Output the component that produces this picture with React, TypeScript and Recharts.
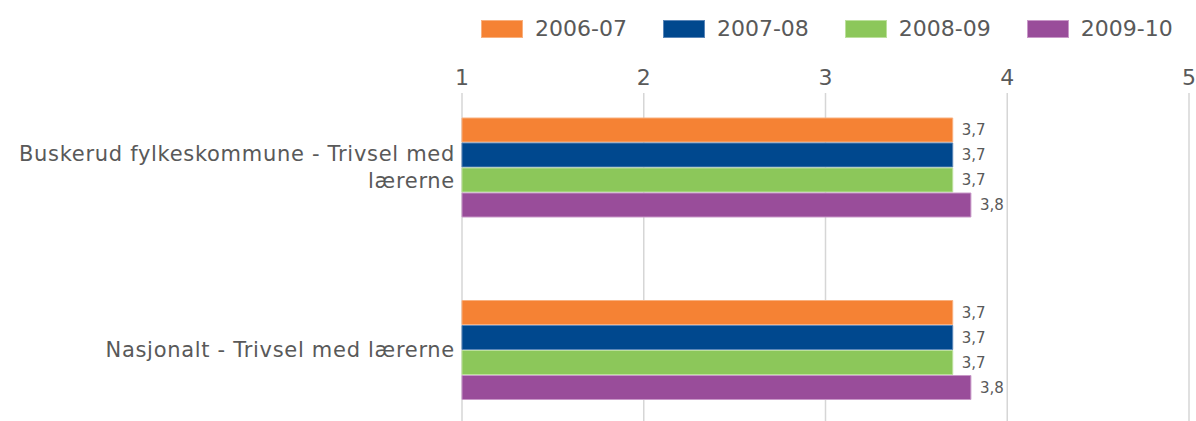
import { Bar, BarChart, CartesianGrid, LabelList, Legend, XAxis, YAxis } from "recharts";

const categories = ["Buskerud fylkeskommune - Trivsel med lærerne", "Nasjonalt - Trivsel med lærerne"];
const y2006 = [3.7, 3.7];
const y2007 = [3.7, 3.7];
const y2008 = [3.7, 3.7];
const y2009 = [3.8, 3.8];
const xTicks = [1, 2, 3, 4, 5];

const data = categories.map((name, i) => ({
  name,
  a: y2006[i],
  b: y2007[i],
  c: y2008[i],
  d: y2009[i],
}));

const font = "'DejaVu Sans', Verdana, sans-serif";
const text = "#595959";

const series = [
  { key: "a", name: "2006-07", fill: "#F58234", stroke: "#F9B07E" },
  { key: "b", name: "2007-08", fill: "#00488E", stroke: "#5A86B8" },
  { key: "c", name: "2008-09", fill: "#8CC75A", stroke: "#BCE09C" },
  { key: "d", name: "2009-10", fill: "#994D9A", stroke: "#C898C8" },
];

// wrap long category names by character count
function wrap(label: string, maxChars = 38) {
  const lines: string[] = [];
  let cur = "";
  for (const w of label.split(" ")) {
    const next = cur ? cur + " " + w : w;
    if (next.length > maxChars && cur) {
      lines.push(cur);
      cur = w;
    } else {
      cur = next;
    }
  }
  if (cur) lines.push(cur);
  return lines;
}

function LegendBox({ payload }: any) {
  return (
    <div style={{ display: "flex", fontFamily: font, fontSize: 22, color: text, whiteSpace: "nowrap" }}>
      {(payload || []).map((p: any, i: number) => {
        const s = series.find((x) => x.name === p.value);
        return (
          <div key={i} style={{ display: "flex", alignItems: "center", marginRight: 36 }}>
            <span
              style={{
                width: 40,
                height: 16,
                background: p.color,
                border: `1px solid ${s ? s.stroke : p.color}`,
                marginRight: 12,
                flexShrink: 0,
              }}
            />
            <span style={{ lineHeight: "18px" }}>{p.value}</span>
          </div>
        );
      })}
    </div>
  );
}

function CategoryTick({ x, y, payload }: any) {
  const lines = wrap(String(payload.value));
  const lh = 27;
  return (
    <text
      x={x}
      y={y}
      textAnchor="end"
      fontSize={21}
      fontFamily={font}
      fill={text}
      letterSpacing={0.7}
    >
      {lines.map((l, i) => (
        <tspan key={i} x={x} dy={i === 0 ? -((lines.length - 1) / 2) * lh + 7 : lh}>
          {l}
        </tspan>
      ))}
    </text>
  );
}

export default function App() {
  return (
    <div>
      <style>{`body{margin:0}`}</style>
      <BarChart
        width={1196}
        height={421}
        data={data}
        layout="vertical"
        margin={{ top: 0, right: 7, bottom: 0, left: 0 }}
        barSize={24}
        barGap={1}
      >
        <CartesianGrid horizontal={false} stroke="#d6d6d6" strokeWidth={1.5} />
        <XAxis
          type="number"
          orientation="top"
          domain={[1, 5]}
          ticks={xTicks}
          height={93}
          axisLine={false}
          tickLine={false}
          tick={{ fontSize: 22, fill: text, fontFamily: font }}
        />
        <YAxis
          type="category"
          dataKey="name"
          width={462}
          axisLine={false}
          tickLine={false}
          tickMargin={1}
          padding={{ top: -17, bottom: -20 }}
          tick={<CategoryTick />}
        />
        <Legend
          layout="horizontal"
          verticalAlign="middle"
          align="center"
          content={<LegendBox />}
          wrapperStyle={{ top: 20, left: 481, width: "auto" }}
        />
        {series.map((s) => (
          <Bar
            key={s.key}
            dataKey={s.key}
            name={s.name}
            fill={s.fill}
            stroke={s.stroke}
            strokeWidth={1}
            isAnimationActive={false}
          >
            <LabelList
              dataKey={s.key}
              position="right"
              offset={9}
              fontSize={15}
              fill={text}
              fontFamily={font}
              formatter={(v: any) => String(v).replace(".", ",")}
            />
          </Bar>
        ))}
      </BarChart>
    </div>
  );
}
